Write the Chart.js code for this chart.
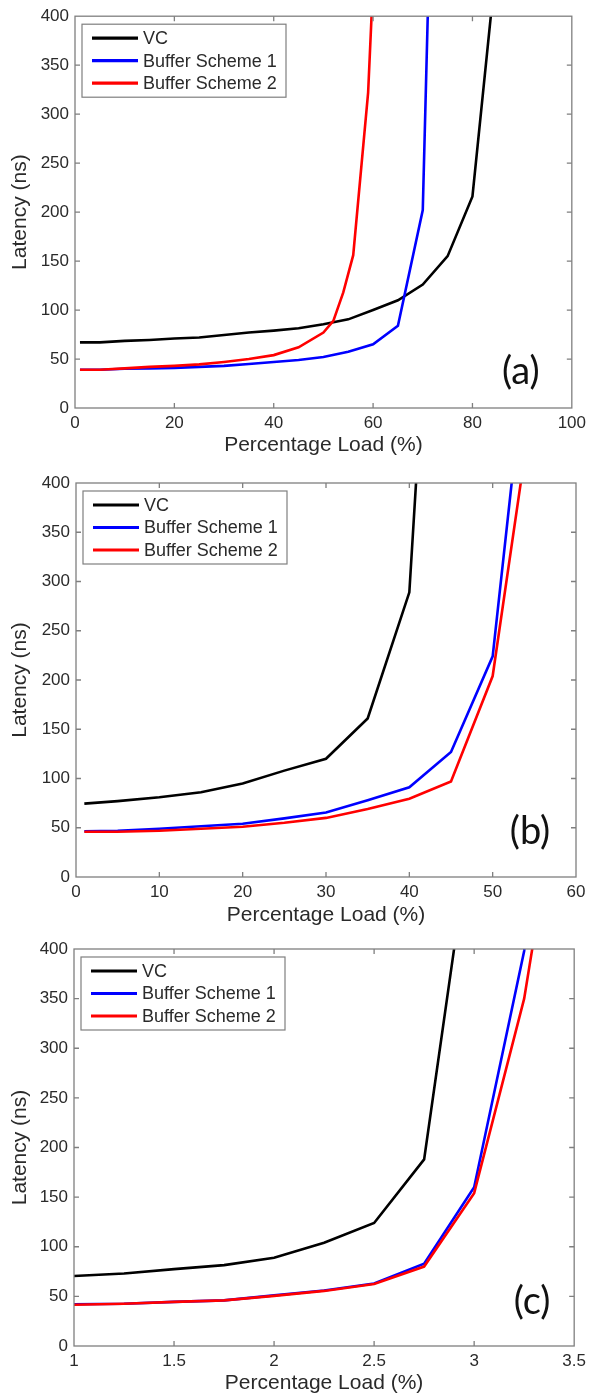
<!DOCTYPE html>
<html>
<head>
<meta charset="utf-8">
<script src="https://cdn.jsdelivr.net/npm/chart.js@4.4.0/dist/chart.umd.min.js"></script>
<style>
  html, body { margin: 0; padding: 0; background: #fff; }
  body { width: 591px; height: 1398px; position: relative; overflow: hidden; }
  .panel { position: absolute; left: 0; width: 591px; }
</style>
</head>
<body>
<div class="panel" style="top:0;height:460px"><canvas id="chartA"></canvas></div>
<div class="panel" style="top:463px;height:467px"><canvas id="chartB"></canvas></div>
<div class="panel" style="top:930px;height:468px"><canvas id="chartC"></canvas></div>
<script>
const seriesNames = ["VC", "Buffer Scheme 1", "Buffer Scheme 2"];
const latencyTicks = [0, 50, 100, 150, 200, 250, 300, 350, 400];

// panel (a)
const loadTicksA = [0, 20, 40, 60, 80, 100];
const loadA_vc = [1, 5, 10, 15, 20, 25, 30, 35, 40, 45, 50, 55, 60, 65, 70, 75, 80, 85];
const latA_vc = [67, 67, 68.5, 69.5, 71, 72, 74.5, 77, 79, 81.5, 85.5, 90.5, 100, 110, 126, 155, 216, 465];
const loadA_bs1 = [1, 5, 10, 15, 20, 25, 30, 35, 40, 45, 50, 55, 60, 65, 70, 75];
const latA_bs1 = [39, 39, 40, 40.5, 41, 42, 43, 45, 47, 49, 52, 57.5, 65, 84, 202, 1192];
const loadA_bs2 = [1, 5, 10, 15, 20, 25, 30, 35, 40, 45, 50, 52, 54, 56, 59, 60];
const latA_bs2 = [39, 39, 40.5, 42, 43, 44.5, 47, 50, 54, 62, 77, 89, 118, 156, 322, 435];

// panel (b)
const loadTicksB = [0, 10, 20, 30, 40, 50, 60];
const loadB_vc = [1, 5, 10, 15, 20, 25, 30, 35, 40, 45];
const latB_vc = [74.5, 77, 81, 86, 95, 108, 120, 161, 289, 980];
const loadB_bs = [1, 5, 10, 15, 20, 25, 30, 35, 40, 45, 50, 55];
const latB_bs1 = [46.5, 47, 49, 51.5, 54, 59.5, 65.5, 78, 91, 127, 224, 610];
const latB_bs2 = [46, 46, 47, 49, 51, 55, 60, 69, 79.5, 97, 204, 495];

// panel (c)
const loadTicksC = [1, 1.5, 2, 2.5, 3, 3.5];
const loadC_vc = [1, 1.25, 1.5, 1.75, 2, 2.25, 2.5, 2.75, 3];
const latC_vc = [70.5, 73, 77.5, 81.5, 89, 104, 124, 188, 542];
const loadC_bs = [1, 1.25, 1.5, 1.75, 2, 2.25, 2.5, 2.75, 3, 3.25, 3.5];
const latC_bs1 = [42, 42.5, 44.5, 46, 51, 56, 63, 83, 160, 398, 900];
const latC_bs2 = [41.5, 42.5, 44.5, 46, 50.5, 55.5, 62.5, 80, 154, 350, 660];

const colors = ["#000000", "#0000ff", "#ff0000"];
const FONT = '"Liberation Sans", Arial, sans-serif';
const TEXT = "#2a2a2a";
const AXIS = "#7f7f7f";

function pts(xs, ys) {
    return xs.map((x, i) => ({ x: x, y: ys[i] }));
}

// matlab style box, inward ticks, legend in the corner and the panel tag
const matlabBox = {
    id: "matlabBox",
    afterDraw(chart, args, opts) {
        const { ctx, chartArea: ca, scales } = chart;
        ctx.save();
        ctx.strokeStyle = AXIS;
        ctx.lineWidth = 1.3;
        ctx.strokeRect(ca.left, ca.top, ca.width, ca.height);
        ctx.beginPath();
        scales.x.ticks.forEach((t) => {
            const px = scales.x.getPixelForValue(t.value);
            if (px <= ca.left + 1 || px >= ca.right - 1) return;
            ctx.moveTo(px, ca.bottom); ctx.lineTo(px, ca.bottom - 5);
            ctx.moveTo(px, ca.top); ctx.lineTo(px, ca.top + 5);
        });
        scales.y.ticks.forEach((t) => {
            const py = scales.y.getPixelForValue(t.value);
            if (py <= ca.top + 1 || py >= ca.bottom - 1) return;
            ctx.moveTo(ca.left, py); ctx.lineTo(ca.left + 5, py);
            ctx.moveTo(ca.right, py); ctx.lineTo(ca.right - 5, py);
        });
        ctx.stroke();

        // legend
        const lx = ca.left + 7, ly = ca.top + 8;
        ctx.fillStyle = "#fff";
        ctx.fillRect(lx, ly, 204, 73);
        ctx.lineWidth = 1.2;
        ctx.strokeRect(lx, ly, 204, 73);
        ctx.font = "18px " + FONT;
        ctx.textBaseline = "middle";
        ctx.textAlign = "left";
        chart.data.datasets.forEach((ds, i) => {
            const ry = ca.top + 22 + i * 22.5;
            ctx.strokeStyle = ds.borderColor;
            ctx.lineWidth = 3.2;
            ctx.beginPath();
            ctx.moveTo(ca.left + 17, ry);
            ctx.lineTo(ca.left + 63, ry);
            ctx.stroke();
            ctx.fillStyle = TEXT;
            ctx.fillText(ds.label, ca.left + 68, ry + 1);
        });

        // panel tag
        ctx.font = '38px Lato, "Open Sans", sans-serif';
        ctx.fillStyle = "#111";
        ctx.textAlign = "center";
        ctx.fillText(opts.tag, ca.right + opts.dx, ca.bottom + opts.dy);
        ctx.restore();
    },
};

function makeChart(id, datasets, xMin, xMax, xTicks, axisH, padTop, padRight, leftW, tag) {
    new Chart(document.getElementById(id), {
        type: "line",
        data: {
            datasets: datasets.map((d, i) => ({
                label: seriesNames[i],
                data: d,
                borderColor: colors[i],
                borderWidth: 2.6,
                pointRadius: 0,
                tension: 0,
                fill: false,
                clip: 0,
                order: 2 - i,
            })),
        },
        options: {
            responsive: true,
            maintainAspectRatio: false,
            animation: false,
            layout: { padding: { top: padTop, right: padRight, left: 0, bottom: 0 } },
            plugins: {
                legend: { display: false },
                tooltip: { enabled: false },
                matlabBox: tag,
            },
            scales: {
                x: {
                    type: "linear",
                    min: xMin,
                    max: xMax,
                    afterBuildTicks: (s) => { s.ticks = xTicks.map((v) => ({ value: v })); },
                    afterFit: (s) => { s.height = axisH; },
                    grid: { display: false, drawTicks: false },
                    border: { display: false },
                    ticks: {
                        padding: 5,
                        maxRotation: 0,
                        color: TEXT,
                        font: { family: FONT, size: 17 },
                        callback: (v) => String(v),
                    },
                    title: {
                        display: true,
                        text: "Percentage Load (%)",
                        color: TEXT,
                        font: { family: FONT, size: 21 },
                        padding: { top: 0, bottom: 2 },
                    },
                },
                y: {
                    type: "linear",
                    min: 0,
                    max: 400,
                    afterBuildTicks: (s) => { s.ticks = latencyTicks.map((v) => ({ value: v })); },
                    afterFit: (s) => { s.width = leftW; },
                    grid: { display: false, drawTicks: false },
                    border: { display: false },
                    ticks: {
                        padding: 6,
                        color: TEXT,
                        font: { family: FONT, size: 17 },
                        callback: (v) => String(v),
                    },
                    title: {
                        display: true,
                        text: "Latency (ns)",
                        color: TEXT,
                        font: { family: FONT, size: 21 },
                        padding: { top: 8, bottom: 0 },
                    },
                },
            },
        },
        plugins: [matlabBox],
    });
}

makeChart("chartA",
    [pts(loadA_vc, latA_vc), pts(loadA_bs1, latA_bs1), pts(loadA_bs2, latA_bs2)],
    0, 100, loadTicksA, 52, 16, 17, 75, { tag: "(a)", dx: -51, dy: -36 });

makeChart("chartB",
    [pts(loadB_vc, latB_vc), pts(loadB_bs, latB_bs1), pts(loadB_bs, latB_bs2)],
    0, 60, loadTicksB, 53, 20, 15, 76, { tag: "(b)", dx: -46, dy: -45 });

makeChart("chartC",
    [pts(loadC_vc, latC_vc), pts(loadC_bs, latC_bs1), pts(loadC_bs, latC_bs2)],
    1, 3.5, loadTicksC, 52, 19, 14, 74, { tag: "(c)", dx: -42, dy: -44 });
</script>
</body>
</html>
